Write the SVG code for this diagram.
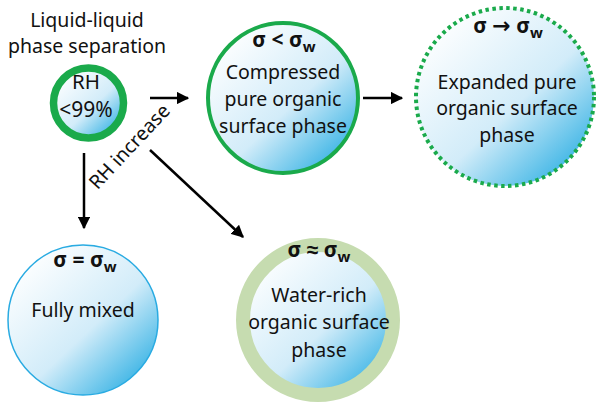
<svg xmlns="http://www.w3.org/2000/svg" width="600" height="409" viewBox="0 0 600 409">
<defs>
<linearGradient id="blue" x1="0.1" y1="0.1" x2="0.9" y2="0.95">
<stop offset="0" stop-color="#ffffff"/>
<stop offset="0.55" stop-color="#d2ecf9"/>
<stop offset="1" stop-color="#2aaee3"/>
</linearGradient>
<marker id="ah" viewBox="0 0 10 10" refX="9" refY="5" markerWidth="5" markerHeight="5" markerUnits="strokeWidth" orient="auto">
<path d="M0,0 L10,5 L0,10 z" fill="#000"/>
</marker>
<style>
text{font-family:"Noto Sans","Liberation Sans",sans-serif;font-size:19.5px;fill:#111;text-anchor:middle}
.b{font-weight:bold;font-size:21px}
.sub{font-size:15px}
.arr{font-family:"DejaVu Sans",sans-serif;font-size:22px}
.conn line{stroke:#000;stroke-width:2.5;marker-end:url(#ah)}
</style>
</defs>
<g id="lls">
<text x="87" y="27">Liquid-liquid</text>
<text x="87" y="53">phase separation</text>
<circle cx="88.5" cy="103" r="35" fill="url(#blue)" stroke="#1aaa4b" stroke-width="7.5"/>
<text x="86" y="89" style="font-size:20.5px">RH</text>
<text x="86" y="117" style="font-size:21px">&lt;99%</text>
</g>
<g id="compressed">
<circle cx="283" cy="98" r="75" fill="url(#blue)" stroke="#1aaa4b" stroke-width="4"/>
<text x="284" y="47" class="b">σ &lt; σ<tspan class="sub" dy="5">w</tspan></text>
<text x="283" y="79">Compressed</text>
<text x="283" y="106">pure organic</text>
<text x="283" y="133">surface phase</text>
</g>
<g id="expanded">
<circle cx="505" cy="97" r="89" fill="url(#blue)" stroke="#1aaa4b" stroke-width="4" stroke-dasharray="3.5 3.5"/>
<text x="508" y="33" class="b">σ <tspan class="arr">→</tspan> σ<tspan class="sub" dy="5">w</tspan></text>
<text x="507" y="89">Expanded pure</text>
<text x="507" y="115">organic surface</text>
<text x="507" y="142">phase</text>
</g>
<g id="fullymixed">
<circle cx="83" cy="320" r="75" fill="url(#blue)" stroke="#29abe2" stroke-width="1.5"/>
<text x="85" y="267" class="b">σ = σ<tspan class="sub" dy="5">w</tspan></text>
<text x="83" y="317">Fully mixed</text>
</g>
<g id="waterrich">
<circle cx="318" cy="320" r="75" fill="url(#blue)" stroke="#c6dcb0" stroke-width="14"/>
<text x="319" y="257" class="b">σ ≈ σ<tspan class="sub" dy="5">w</tspan></text>
<text x="319" y="302">Water-rich</text>
<text x="319" y="329">organic surface</text>
<text x="319" y="357">phase</text>
</g>
<g class="conn">
<line x1="150" y1="98" x2="188" y2="98"/>
<line x1="363" y1="98" x2="402" y2="98"/>
<line x1="84" y1="153" x2="84" y2="228"/>
<line x1="150" y1="150" x2="243" y2="237"/>
</g>
<text x="130" y="153" transform="rotate(-47 130 147)">RH increase</text>
</svg>
